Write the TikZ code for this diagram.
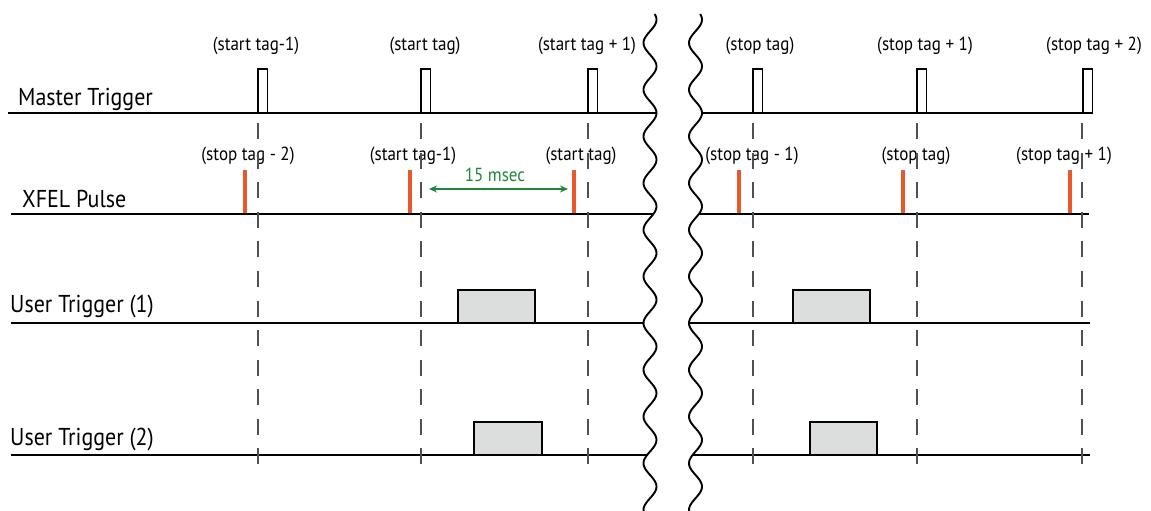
\documentclass[tikz,border=0pt]{standalone}
\usepackage{fontspec}
\setmainfont{PT Sans}[FakeStretch=0.9]
\usetikzlibrary{arrows.meta}

\definecolor{pulseorange}{RGB}{233,88,42}
\definecolor{spangreen}{RGB}{30,135,60}
\definecolor{gatefill}{RGB}{220,221,221}
\definecolor{markgray}{RGB}{80,80,80}

\begin{document}
\begin{tikzpicture}[x=1bp,y=-1bp,
  sigline/.style={line width=1.9bp, black},
  mpulse/.style={draw, line width=1.8bp, fill=white},
  gate/.style={draw, line width=1.8bp, fill=gatefill},
  xpulse/.style={fill=pulseorange},
  tagline/.style={markgray, line width=1.3bp, dash pattern=on 16bp off 13.5bp},
  brk/.style={line width=1.9bp, line join=round},
  tag/.style={font=\fontsize{19}{22}\selectfont, inner sep=0pt},
  sig/.style={font=\fontsize{24.5}{27}\selectfont, inner sep=0pt, anchor=base west},
  span/.style={spangreen, line width=1.6bp, {Stealth[length=8bp,width=7bp]}-{Stealth[length=8bp,width=7bp]}},
]
\useasboundingbox (0,0) rectangle (1151,511);

% wave geometry of the two break marks (degrees per bp along y)
\pgfmathsetmacro{\wrate}{360/46.7}
\def\wamp{6.5}
\def\wleft{650}
\def\wright{695.5}

% signal names
\node[sig] (nmaster) at (18,106) {Master Trigger};
\node[sig] (nxfel)   at (22,208) {XFEL Pulse};
\node[sig] (nuser1)  at (10,313) {User Trigger (1)};
\node[sig] (nuser2)  at (10,445) {User Trigger (2)};

% signal base lines, cut at the break marks
\foreach \yy/\xs/\xe in {113/8/1092, 214/11/1089, 323/11/1090, 455/11/1090}{
  \pgfmathsetmacro{\wx}{\wamp*cos(\wrate*(\yy-113))}
  \draw[sigline] (\xs,\yy) -- (\wleft+\wx,\yy);
  \draw[sigline] (\wright+\wx,\yy) -- (\xe,\yy);
}

% master trigger pulses
\foreach \px in {258, 421, 588, 753, 917, 1083}
  \draw[mpulse] (\px,113) rectangle (\px+9.5,69);

% tag labels above master trigger
\node[tag] (t1) at (256,46)  {(start tag-1)};
\node[tag] (t2) at (425,46)  {(start tag)};
\node[tag] (t3) at (587,46)  {(start tag + 1)};
\node[tag] (t4) at (760,46)  {(stop tag)};
\node[tag] (t5) at (925,46)  {(stop tag + 1)};
\node[tag] (t6) at (1094,46) {(stop tag + 2)};

% tag labels above XFEL pulses
\node[tag] (u1) at (248,156)  {(stop tag - 2)};
\node[tag] (u2) at (413,156)  {(start tag-1)};
\node[tag] (u3) at (581,156)  {(start tag)};
\node[tag] (u4) at (752,156)  {(stop tag - 1)};
\node[tag] (u5) at (916,156)  {(stop tag)};
\node[tag] (u6) at (1064,156) {(stop tag + 1)};

% XFEL pulses
\foreach \px in {245, 410, 574, 739, 903, 1070}
  \fill[xpulse] (\px-2.4,213) rectangle (\px+2.4,170);

% user trigger gates
\draw[gate] (458,323) rectangle (535,290);
\draw[gate] (474,455) rectangle (542,422);
\draw[gate] (793,323) rectangle (870,290);
\draw[gate] (810,455) rectangle (877,422);

% tag timing marks
\foreach \px in {258, 421, 588, 753, 917, 1082}
  \draw[tagline] (\px,123.5) -- (\px,464);

% 15 msec span between two XFEL pulses
\coordinate (sa) at (429,189);
\coordinate (sb) at (568,189);
\draw[span] (sa) -- (sb);
\node[tag, text=spangreen] (slabel) at (495,175) {15 msec};

% break marks
\draw[brk] plot[domain=14:511, samples=300, smooth, variable=\t]
  ({\wleft+\wamp*cos(\wrate*(\t-113))}, \t);
\draw[brk] plot[domain=14:511, samples=300, smooth, variable=\t]
  ({\wright+\wamp*cos(\wrate*(\t-113))}, \t);
\end{tikzpicture}
\end{document}
